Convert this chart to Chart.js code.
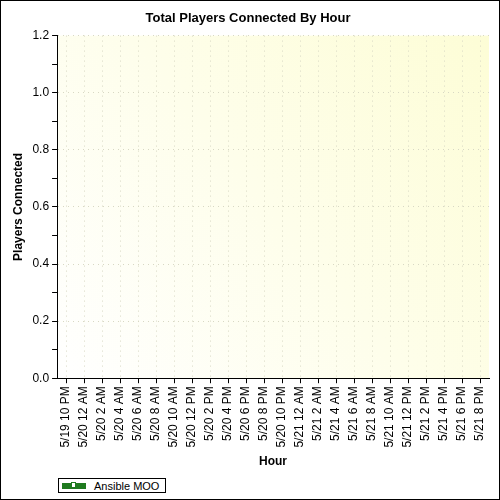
<!DOCTYPE html>
<html>
<head>
<meta charset="utf-8">
<script src="https://cdn.jsdelivr.net/npm/chart.js@4/dist/chart.umd.min.js"></script>
<style>
  html, body { margin: 0; padding: 0; background: #fff; }
  #wrap { position: relative; width: 498px; height: 498px; border: 1px solid #000; }
  #legend { position: absolute; left: 57px; top: 477px; height: 13px; border: 1px solid #000;
    font: 11px "Liberation Sans", Arial, sans-serif; display: flex; align-items: center; padding: 0 6px 0 3px; background: #fff; }
  #legend .sw { width: 24px; height: 6px; background: #1f7a1f; position: relative; margin-right: 8px; }
  #legend .sw i { position: absolute; left: 9px; top: -1px; width: 5px; height: 6px; background: #fff; border: 1px solid #1f7a1f; box-sizing: border-box; }
</style>
</head>
<body>
<div id="wrap">
  <canvas id="c" width="498" height="498"></canvas>
  <div id="legend"><span class="sw"><i></i></span>Ansible MOO</div>
</div>
<script>
/* ── Data ── */
const hours = [
  "5/19 10 PM", "5/20 12 AM", "5/20 2 AM", "5/20 4 AM", "5/20 6 AM", "5/20 8 AM",
  "5/20 10 AM", "5/20 12 PM", "5/20 2 PM", "5/20 4 PM", "5/20 6 PM", "5/20 8 PM",
  "5/20 10 PM", "5/21 12 AM", "5/21 2 AM", "5/21 4 AM", "5/21 6 AM", "5/21 8 AM",
  "5/21 10 AM", "5/21 12 PM", "5/21 2 PM", "5/21 4 PM", "5/21 6 PM", "5/21 8 PM",
];
const playersConnected = [];   // no points drawn in the reference
const yMin = 0, yMax = 1.2;

const FONT = "'Liberation Sans', Arial, sans-serif";

/* ── Plot background: pale yellow wash ── */
const plotBg = {
  id: "plotBg",
  beforeDraw(chart) {
    const { ctx, chartArea: a } = chart;
    const g = ctx.createLinearGradient(a.left, a.bottom, a.right, a.top);
    g.addColorStop(0, "#ffffff");
    g.addColorStop(1, "#fdfdd6");
    ctx.save();
    ctx.fillStyle = g;
    ctx.fillRect(a.left, a.top, a.right - a.left, a.bottom - a.top);
    ctx.restore();
  },
};

new Chart(document.getElementById("c"), {
  type: "line",
  data: {
    labels: hours,
    datasets: [{
      label: "Ansible MOO",
      data: playersConnected,
      borderColor: "#1f7a1f",
      pointBackgroundColor: "#fff",
      pointStyle: "rect",
    }],
  },
  plugins: [plotBg],
  options: {
    responsive: false,
    animation: false,
    layout: { padding: { top: 6, right: 10, bottom: 26, left: 6 } },
    plugins: {
      legend: { display: false },
      tooltip: { enabled: false },
      title: {
        display: true, text: "Total Players Connected By Hour", color: "#000",
        font: { family: FONT, size: 13, weight: "bold" }, padding: { top: 4, bottom: 9 },
      },
    },
    scales: {
      x: {
        offset: true,
        grid: { color: "#d8d8c4", tickColor: "#000", tickLength: 5, offset: false, lineWidth: 1 },
        border: { color: "#000", dash: [1, 4] },
        ticks: { color: "#000", font: { family: FONT, size: 12 }, minRotation: 90, maxRotation: 90,
                 autoSkip: false },
        title: { display: true, text: "Hour", color: "#000", font: { family: FONT, size: 12, weight: "bold" } },
      },
      y: {
        min: yMin, max: yMax,
        border: { color: "#000", dash: [1, 4] },
        grid: {
          color: c => (Math.round(c.tick.value * 100) % 20 === 0 ? "#d8d8c4" : "rgba(0,0,0,0)"),
          tickColor: "#000", tickLength: 5,
        },
        ticks: {
          stepSize: 0.05, color: "#000", font: { family: FONT, size: 12 },
          callback: v => (Math.round(v * 100) % 20 === 0 ? v.toFixed(1) : ""),
        },
        title: { display: true, text: "Players Connected", color: "#000", font: { family: FONT, size: 12, weight: "bold" } },
      },
    },
  },
});
</script>
</body>
</html>
